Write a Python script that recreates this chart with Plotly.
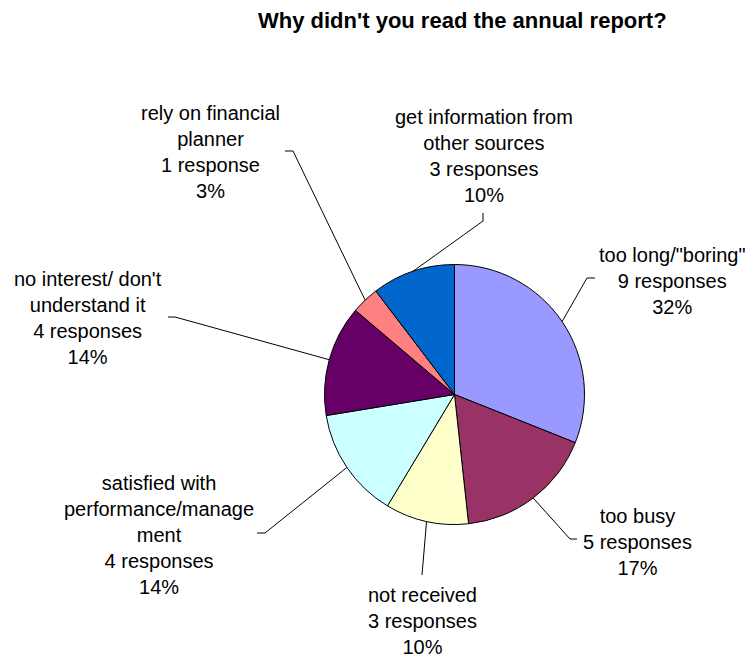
import math
import plotly.graph_objects as go

# ---- data ----
categories = [
    'too long/"boring"',
    "too busy",
    "not received",
    "satisfied with performance/management",
    "no interest/ don't understand it",
    "rely on financial planner",
    "get information from other sources",
]
responses = [9, 5, 3, 4, 4, 1, 3]
percent_labels = ["32%", "17%", "10%", "14%", "14%", "3%", "10%"]
label_texts = [
    'too long/"boring"<br>9 responses<br>32%',
    "too busy<br>5 responses<br>17%",
    "not received<br>3 responses<br>10%",
    "satisfied with<br>performance/manage<br>ment<br>4 responses<br>14%",
    "no interest/ don't<br>understand it<br>4 responses<br>14%",
    "rely on financial<br>planner<br>1 response<br>3%",
    "get information from<br>other sources<br>3 responses<br>10%",
]
colors = ["#9999FF", "#993366", "#FFFFCC", "#CCFFFF", "#660066", "#FF8080", "#0066CC"]
title_text = "Why didn't you read the annual report?"

# ---- layout (pixels) ----
W, H = 750, 657
PIE_CX, PIE_CY, PIE_R = 454.5, 394.5, 130
# label block centres
label_pos = [(672, 281), (637, 542), (422, 621), (159, 535), (88, 318), (210, 152), (484, 156)]
# leader elbow and tick end points
leader_pts = [
    [(587, 278), (595, 278)],
    [(570, 539), (577, 539)],
    [(422, 575)],
    [(265, 533), (257, 533)],
    [(175, 317), (168, 317)],
    [(293, 151), (285, 151)],
    [(483, 221), (483, 213)],
]


def px(x):
    return x / W


def py(y):
    return 1 - y / H


fig = go.Figure(
    go.Pie(
        labels=categories,
        values=responses,
        marker=dict(colors=colors, line=dict(color="black", width=1)),
        sort=False,
        direction="clockwise",
        rotation=0,
        textinfo="none",
        hoverinfo="label+value+percent",
        showlegend=False,
        domain=dict(
            x=[px(PIE_CX - PIE_R), px(PIE_CX + PIE_R)],
            y=[py(PIE_CY + PIE_R), py(PIE_CY - PIE_R)],
        ),
    )
)

total = sum(responses)
cum = 0
shapes = []
annotations = []
for i, v in enumerate(responses):
    mid = (cum + v / 2) / total * 2 * math.pi
    cum += v
    ex = PIE_CX + PIE_R * math.sin(mid)
    ey = PIE_CY - PIE_R * math.cos(mid)
    pts = [(ex, ey)] + leader_pts[i]
    path = "M " + " L ".join(f"{px(a):.5f},{py(b):.5f}" for a, b in pts)
    shapes.append(
        dict(type="path", xref="paper", yref="paper", path=path,
             line=dict(color="black", width=1))
    )
    lx, ly = label_pos[i]
    annotations.append(
        dict(
            x=px(lx), y=py(ly), xref="paper", yref="paper",
            text=label_texts[i], showarrow=False,
            xanchor="center", yanchor="middle", align="center",
            font=dict(family="Liberation Sans, Arial, sans-serif", size=20, color="black"),
        )
    )

annotations.append(
    dict(
        x=px(463), y=py(20), xref="paper", yref="paper",
        text="<b>" + title_text + "</b>", showarrow=False,
        xanchor="center", yanchor="middle",
        font=dict(family="Liberation Sans, Arial, sans-serif", size=22, color="black"),
    )
)

fig.update_layout(
    width=W, height=H, autosize=False,
    margin=dict(l=0, r=0, t=0, b=0),
    paper_bgcolor="white", plot_bgcolor="white",
    shapes=shapes, annotations=annotations,
)

fig.write_html(
    "out.html",
    config={"displayModeBar": False},
    post_script="document.body.style.margin='0';document.body.style.padding='0';document.body.style.overflow='hidden';",
)
